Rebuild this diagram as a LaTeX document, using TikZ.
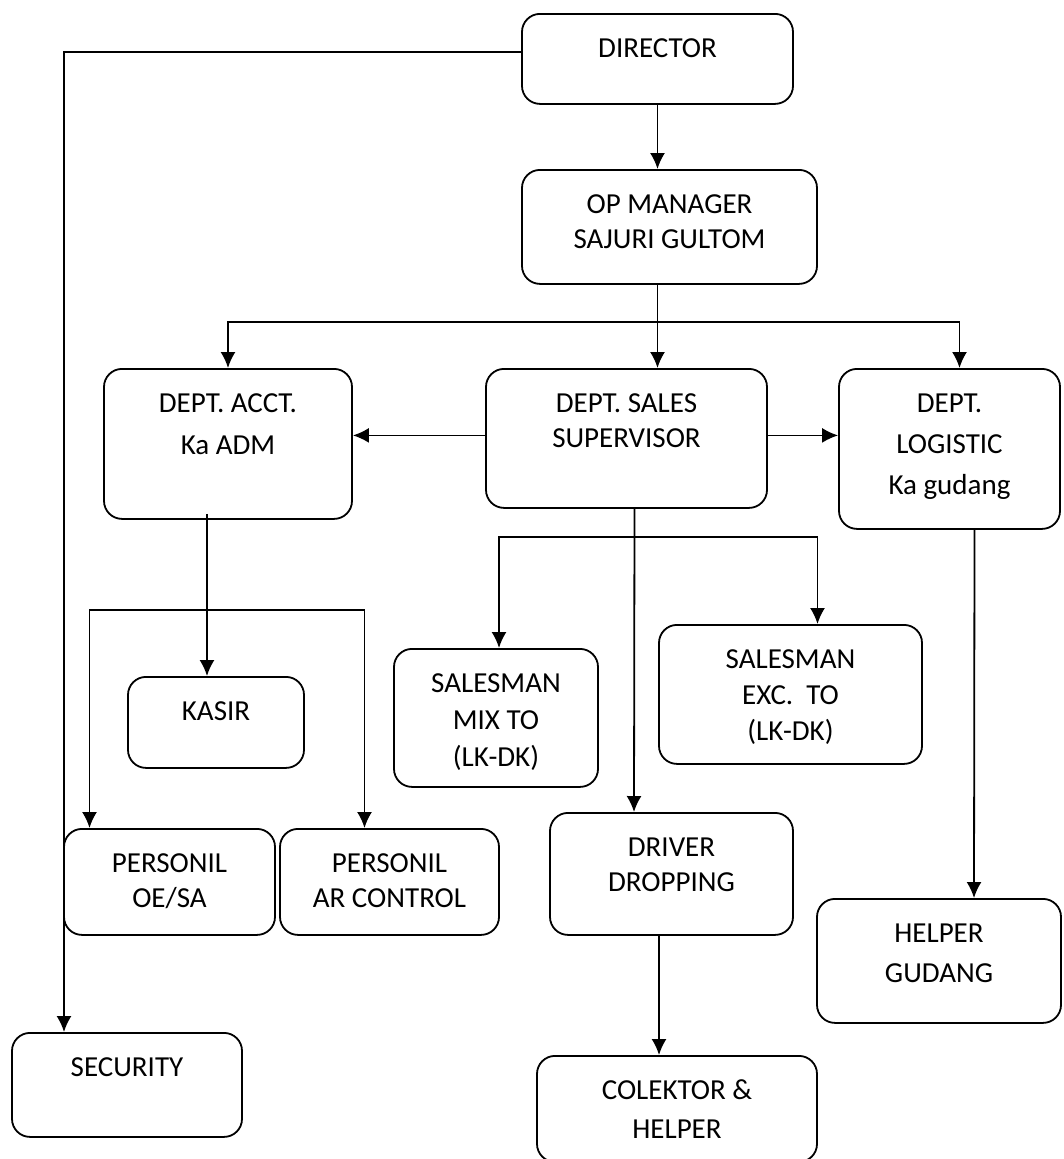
\documentclass[tikz,border=0pt]{standalone}
\usepackage{fontspec}
\setmainfont{Carlito}
\usetikzlibrary{arrows.meta}

\begin{document}
\begin{tikzpicture}[x=1pt,y=-1pt]


\tikzstyle{box}=[draw, rounded corners=18pt, line width=1.8pt,
    align=center, anchor=north, inner sep=0pt, text height=44pt,
    font=\fontsize{29pt}{35pt}\selectfont]
\tikzstyle{link}=[->,>={Latex[length=16pt,width=15pt]}, line width=1.8pt]
  \useasboundingbox (0,0) rectangle (1063,1159);

  \node[box, minimum width=271pt, text depth=46pt] (director) at (657.5,13) {DIRECTOR};
  \node[box, minimum width=295pt, text height=79pt, text depth=35pt] (opman) at (669.5,169) {OP MANAGER\\SAJURI GULTOM};

  \node[box, minimum width=248pt, text height=86pt, text depth=64pt] (acct) at (228,368) {DEPT. ACCT.\\[7pt]Ka ADM};
  \node[box, minimum width=281pt, text height=79pt, text depth=60pt] (sales) at (626.5,368) {DEPT. SALES\\SUPERVISOR};
  \node[box, minimum width=221pt, text height=126pt, text depth=34pt] (logistic) at (949.5,368) {DEPT.\\[6pt]LOGISTIC\\[6pt]Ka gudang};

  \node[box, minimum width=176pt, text depth=47pt] (kasir) at (216,676) {KASIR};
  \node[box, minimum width=204pt, text height=118pt, text depth=20pt] (mix) at (496,648) {SALESMAN\\[2pt]MIX TO\\[2pt](LK-DK)};
  \node[box, minimum width=263pt, text height=116pt, text depth=23pt] (exc) at (790.5,624) {SALESMAN\\[1pt]EXC.\ \ TO\\[1pt](LK-DK)};

  \node[box, minimum width=211pt, text height=79pt, text depth=27pt] (oesa) at (169.5,828) {PERSONIL\\OE/SA};
  \node[box, minimum width=219pt, text height=79pt, text depth=27pt] (arctl) at (389.5,828) {PERSONIL\\AR CONTROL};
  \node[box, minimum width=243pt, text height=79pt, text depth=43pt] (driver) at (671.5,812) {DRIVER\\DROPPING};
  \node[box, minimum width=244pt, text height=84pt, text depth=40pt] (helper) at (939,898) {HELPER\\[5pt]GUDANG};

  \node[box, minimum width=230pt, text depth=60pt] (security) at (127,1032) {SECURITY};
  \node[box, minimum width=280pt, text height=83pt, text depth=23pt] (colektor) at (677,1055) {COLEKTOR \&\\[4pt]HELPER};

  % director
  \draw[link] ([yshift=7pt]director.west) -| ([xshift=-63pt]security.north);
  \draw[link] (director.south) -- (director.south |- opman.north);

  % op manager to the departments
  \coordinate (bus) at (657.5,322);
  \draw[link] (opman.south -| director.south) -- (sales.north -| director.south);
  \draw[link] (bus) -| (acct.north);
  \draw[link] (bus) -| ([xshift=10pt]logistic.north);
  \draw[link] ([yshift=3pt]sales.west) -- ([yshift=3pt]sales.west -| acct.east);
  \draw[link] ([yshift=3pt]sales.east) -- ([yshift=3pt]sales.east -| logistic.west);

  % accounting
  \coordinate (acctbus) at (207,610);
  \draw[link] ([xshift=-9pt,yshift=6pt]kasir.north |- acct.south) -- ([xshift=-9pt]kasir.north);
  \draw[link] (acctbus) -| ([xshift=-80pt]oesa.north);
  \draw[link] (acctbus) -| ([xshift=-25pt]arctl.north);

  % sales
  \coordinate (salesbus) at (634,537);
  \draw[link] ([xshift=8pt]sales.south) -- ([xshift=-37.5pt]driver.north);
  \draw[link] (salesbus) -| ([xshift=3pt]mix.north);
  \draw[link] (salesbus) -| ([xshift=27pt]exc.north);
  \draw[link] ([xshift=-12.5pt]driver.south) -- ([xshift=-18pt]colektor.north);

  % logistic
  \draw[link] ([xshift=25pt]logistic.south) -- ([xshift=35pt]helper.north);


\end{tikzpicture}
\end{document}
